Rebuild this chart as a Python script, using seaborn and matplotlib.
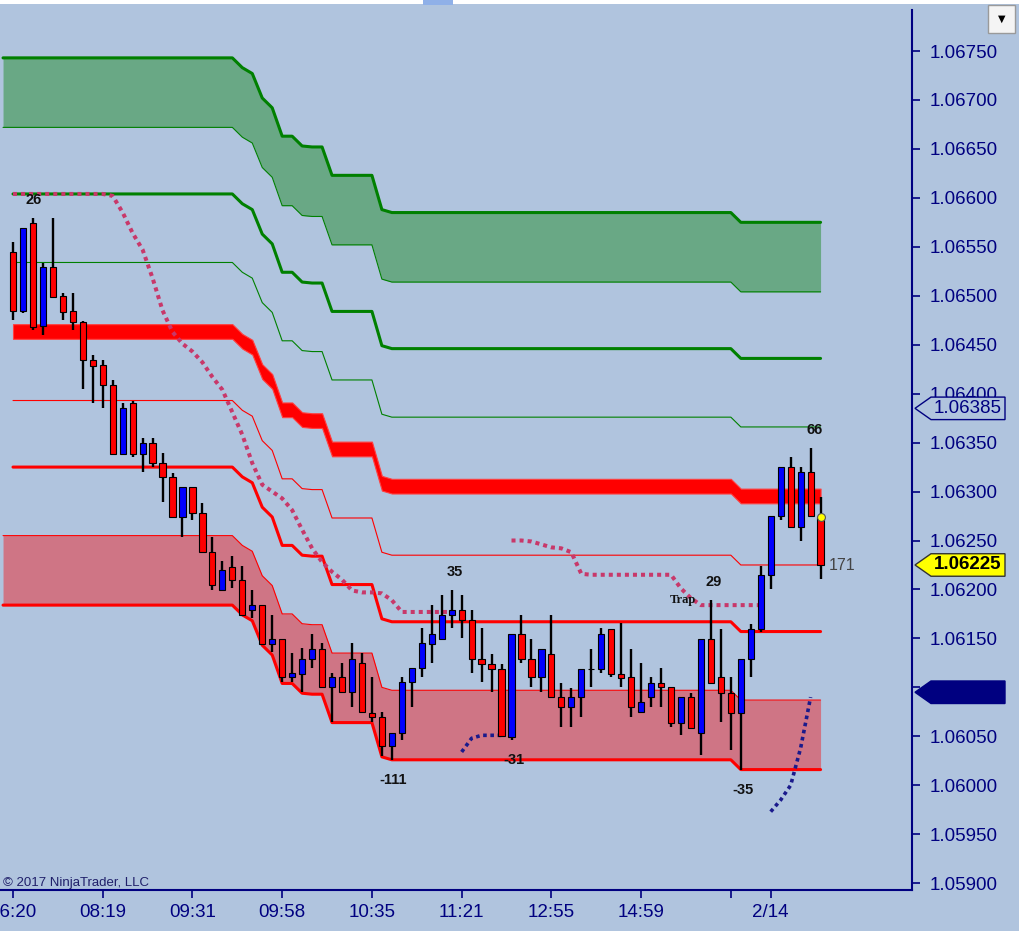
import numpy as np
import pandas as pd
import seaborn as sns
import matplotlib.pyplot as plt
from matplotlib.patches import Polygon, Rectangle
from matplotlib.transforms import blended_transform_factory

BG = "#B0C4DE"
NAVY = "#000080"

# 5-minute-ish bars, OHLC
opens = [1.06545, 1.06484, 1.06574, 1.06469, 1.06529, 1.06500, 1.06484, 1.06473, 1.06434, 1.06429,
         1.06409, 1.06338, 1.06390, 1.06338, 1.06350, 1.06329, 1.06315, 1.06274, 1.06305, 1.06278,
         1.06238, 1.06199, 1.06223, 1.06210, 1.06179, 1.06184, 1.06144, 1.06149, 1.06111, 1.06114,
         1.06129, 1.06139, 1.06100, 1.06111, 1.06095, 1.06125, 1.06074, 1.06070, 1.06040, 1.06053,
         1.06105, 1.06120, 1.06144, 1.06149, 1.06174, 1.06179, 1.06169, 1.06129, 1.06124, 1.06119,
         1.06049, 1.06154, 1.06129, 1.06111, 1.06134, 1.06090, 1.06080, 1.06090, 1.06119, 1.06119,
         1.06160, 1.06114, 1.06111, 1.06075, 1.06090, 1.06104, 1.06100, 1.06064, 1.06090, 1.06053,
         1.06149, 1.06111, 1.06094, 1.06074, 1.06129, 1.06160, 1.06215, 1.06275, 1.06325, 1.06264,
         1.06320, 1.06274]
highs = [1.06555, 1.06569, 1.06579, 1.06533, 1.06579, 1.06503, 1.06503, 1.06474, 1.06439, 1.06434,
         1.06414, 1.06390, 1.06393, 1.06355, 1.06355, 1.06339, 1.06319, 1.06305, 1.06305, 1.06288,
         1.06254, 1.06229, 1.06234, 1.06224, 1.06199, 1.06184, 1.06174, 1.06149, 1.06135, 1.06140,
         1.06155, 1.06145, 1.06115, 1.06125, 1.06145, 1.06135, 1.06111, 1.06075, 1.06053, 1.06111,
         1.06120, 1.06161, 1.06184, 1.06194, 1.06199, 1.06194, 1.06179, 1.06161, 1.06134, 1.06124,
         1.06154, 1.06174, 1.06149, 1.06139, 1.06174, 1.06104, 1.06099, 1.06119, 1.06139, 1.06161,
         1.06160, 1.06166, 1.06139, 1.06125, 1.06111, 1.06120, 1.06100, 1.06090, 1.06094, 1.06149,
         1.06189, 1.06160, 1.06111, 1.06129, 1.06165, 1.06224, 1.06275, 1.06325, 1.06335, 1.06325,
         1.06344, 1.06294]
lows = [1.06475, 1.06482, 1.06465, 1.06460, 1.06499, 1.06475, 1.06465, 1.06405, 1.06390, 1.06385,
        1.06338, 1.06338, 1.06335, 1.06320, 1.06325, 1.06289, 1.06274, 1.06254, 1.06271, 1.06238,
        1.06199, 1.06198, 1.06201, 1.06174, 1.06171, 1.06144, 1.06136, 1.06105, 1.06105, 1.06095,
        1.06120, 1.06100, 1.06065, 1.06095, 1.06080, 1.06075, 1.06065, 1.06030, 1.06026, 1.06046,
        1.06080, 1.06111, 1.06125, 1.06148, 1.06161, 1.06150, 1.06115, 1.06105, 1.06095, 1.06049,
        1.06046, 1.06125, 1.06100, 1.06095, 1.06090, 1.06059, 1.06059, 1.06070, 1.06100, 1.06115,
        1.06111, 1.06100, 1.06070, 1.06074, 1.06080, 1.06080, 1.06059, 1.06051, 1.06058, 1.06031,
        1.06104, 1.06065, 1.06036, 1.06016, 1.06111, 1.06157, 1.06200, 1.06271, 1.06264, 1.06250,
        1.06275, 1.06211]
closes = [1.06484, 1.06569, 1.06468, 1.06529, 1.06499, 1.06483, 1.06473, 1.06434, 1.06428, 1.06409,
          1.06338, 1.06385, 1.06338, 1.06350, 1.06329, 1.06315, 1.06274, 1.06305, 1.06278, 1.06238,
          1.06205, 1.06220, 1.06210, 1.06174, 1.06184, 1.06144, 1.06149, 1.06111, 1.06115, 1.06129,
          1.06139, 1.06100, 1.06111, 1.06095, 1.06129, 1.06075, 1.06070, 1.06040, 1.06053, 1.06105,
          1.06120, 1.06145, 1.06154, 1.06174, 1.06179, 1.06169, 1.06129, 1.06124, 1.06119, 1.06050,
          1.06154, 1.06129, 1.06111, 1.06139, 1.06090, 1.06080, 1.06090, 1.06119, 1.06119, 1.06154,
          1.06114, 1.06110, 1.06080, 1.06085, 1.06104, 1.06100, 1.06064, 1.06090, 1.06058, 1.06149,
          1.06104, 1.06094, 1.06074, 1.06129, 1.06160, 1.06215, 1.06275, 1.06325, 1.06264, 1.06320,
          1.06275, 1.06225]

# pivot-style levels: value at the first bar, then all levels step down together
step_down = ([0.0] * 23
             + [0.00010, 0.00016, 0.00041, 0.00051, 0.00080, 0.00080, 0.00090, 0.00091, 0.00091,
                0.00120, 0.00120, 0.00120, 0.00120, 0.00120, 0.00155, 0.00158]
             + [0.00158] * 34 + [0.00168] * 9)
green_zone = (1.06672, 1.06743)
green_thick = 1.06604
green_thin = 1.06534
mid_zone = (1.06456, 1.06471)
red_thin = 1.06393
red_thick = 1.06325
red_zone = (1.06184, 1.06255)

# dotted trailing lines (start bar, values)
trail_up_start = 0
trail_up = ([1.06604] * 10
            + [1.06602, 1.06585, 1.06564, 1.06547, 1.06518, 1.06485, 1.06463, 1.06451, 1.06443,
               1.06432, 1.06417, 1.06404, 1.06381, 1.06358, 1.06329, 1.06307, 1.06300, 1.06293,
               1.06281, 1.06261, 1.06242, 1.06228, 1.06218, 1.06210, 1.06199, 1.06197, 1.06197,
               1.06196, 1.06189]
            + [1.06177] * 6)
trail_up2_start = 50
trail_up2 = ([1.06250, 1.06250, 1.06249, 1.06246, 1.06243, 1.06242, 1.06238, 1.06216]
             + [1.06215] * 9 + [1.06201, 1.06191] + [1.06184] * 7)
trail_dn_start = 45
trail_dn = [1.06034, 1.06048, 1.06051, 1.06051, 1.06051]
trail_dn2_start = 76
trail_dn2 = [1.05973, 1.05985, 1.06000, 1.06038, 1.06090]

# swing labels (bar, price, text)
swing_bars = [2.1, 44.3, 38.1, 50.2, 73.2, 70.3, 80.4]
swing_prices = [1.06598, 1.06218, 1.06005, 1.06026, 1.05995, 1.06208, 1.06363]
swing_texts = ["26", "35", "-111", "-31", "-35", "29", "66"]

tick_bars = [0, 9, 18, 27, 36, 45, 54, 63, 72, 76]
tick_labels = ["06:20", "08:19", "09:31", "09:58", "10:35", "11:21", "12:55", "14:59", "", "2/14"]
price_ticks = [1.05900 + 0.0005 * i for i in range(18)]


def main():
    sns.set_style("white", {"axes.facecolor": BG, "figure.facecolor": BG})
    plt.rcParams["font.family"] = ["Liberation Sans", "DejaVu Sans"]

    fig = plt.figure(figsize=(10.19, 9.31), dpi=100)
    ax = fig.add_axes([0, 41 / 931, 912 / 1019, 880 / 931])

    bars = np.arange(len(opens))
    shift = np.array(step_down)
    zx = np.r_[-1, bars]
    zshift = np.r_[0.0, shift]

    # zones
    ax.fill_between(zx, green_zone[0] - zshift, green_zone[1] - zshift, color="green", alpha=0.4, lw=0, zorder=1)
    sns.lineplot(x=zx, y=green_zone[1] - zshift, color="green", lw=2.2, ax=ax, zorder=2)
    sns.lineplot(x=zx, y=green_zone[0] - zshift, color="green", lw=0.8, ax=ax, zorder=2)
    ax.fill_between(zx, red_zone[0] - zshift, red_zone[1] - zshift, color="red", alpha=0.4, lw=0, zorder=1)
    sns.lineplot(x=zx, y=red_zone[0] - zshift, color="red", lw=2.2, ax=ax, zorder=2)
    sns.lineplot(x=zx, y=red_zone[1] - zshift, color="red", lw=0.8, ax=ax, zorder=2)
    ax.fill_between(bars, mid_zone[0] - shift, mid_zone[1] - shift, color="red", edgecolor="#ff4040", lw=0.8, zorder=2)

    # levels
    sns.lineplot(x=bars, y=green_thick - shift, color="green", lw=2.2, ax=ax, zorder=2)
    sns.lineplot(x=bars, y=green_thin - shift, color="green", lw=0.8, ax=ax, zorder=2)
    sns.lineplot(x=bars, y=red_thin - shift, color="red", lw=0.8, ax=ax, zorder=2)
    sns.lineplot(x=bars, y=red_thick - shift, color="red", lw=2.2, ax=ax, zorder=2)

    # dotted trails
    for start, vals, col, lw in [(trail_up_start, trail_up, "#C8386A", 2.9),
                                 (trail_up2_start, trail_up2, "#C8386A", 2.9),
                                 (trail_dn_start, trail_dn, "#1A1A8C", 2.6),
                                 (trail_dn2_start, trail_dn2, "#1A1A8C", 2.6)]:
        xs = np.arange(start, start + len(vals))
        sns.lineplot(x=xs, y=vals, color=col, lw=lw, linestyle=(0, (1, 1)), ax=ax, zorder=3)

    # candles
    df = pd.DataFrame({"bar": bars, "open": opens, "high": highs, "low": lows, "close": closes})
    df["color"] = np.where(df["close"] >= df["open"], "#0000FF", "#FF0000")
    ax.vlines(df["bar"], df["low"], df["high"], color="black", lw=1.7, zorder=4)
    ax.bar(df["bar"], (df["close"] - df["open"]).abs(), bottom=df[["open", "close"]].min(axis=1),
           width=0.62, color=df["color"], edgecolor="black", linewidth=0.8, zorder=5)
    ax.scatter([bars[-1]], [opens[-1]], s=32, color="yellow", edgecolor="#555555", lw=0.8, zorder=6)

    for bx, by, t in zip(swing_bars, swing_prices, swing_texts):
        ax.text(bx, by, t, ha="center", va="center", fontsize=10.5, fontweight="bold", color="#111111", zorder=7)
    ax.text(67.2, 1.06189, "Trap", ha="center", va="center", fontsize=9, fontweight="bold",
            family=["Liberation Serif", "DejaVu Serif"], color="#111111", zorder=7)
    ax.text(81.8, 1.06224, "171", ha="left", va="center", fontsize=11.5, color="#444444", zorder=7)

    # axes styling
    for side in ["top", "left"]:
        ax.spines[side].set_visible(False)
    for side in ["right", "bottom"]:
        ax.spines[side].set_color(NAVY)
        ax.spines[side].set_linewidth(1.5)
    ax.set_yticks(price_ticks)
    ax.set_yticklabels([f"{p:.5f}" for p in price_ticks])
    ax.set_xticks(tick_bars)
    ax.set_xticklabels(tick_labels)
    ax.tick_params(axis="y", left=False, right=True, labelleft=False, labelright=True,
                   direction="out", length=6, width=1.2, color=NAVY, labelcolor=NAVY, labelsize=13.5, pad=7)
    ax.tick_params(axis="x", bottom=True, direction="out", length=6, width=1.2, color=NAVY,
                   labelcolor=NAVY, labelsize=13.5, pad=4)
    ax.set_xlabel("")
    ax.set_ylabel("")

    # price markers on the axis
    trans = blended_transform_factory(ax.transAxes, ax.transData)
    h = 0.000115
    markers = [(1.06385, BG, NAVY, NAVY, "1.06385"),
               (1.06225, "#FFFF00", "#333333", "black", "1.06225"),
               (1.06095, NAVY, NAVY, NAVY, "")]
    for price, face, edge, tcol, label in markers:
        pts = [(915 / 912, price), (931 / 912, price + h), (1005 / 912, price + h),
               (1005 / 912, price - h), (931 / 912, price - h)]
        ax.add_patch(Polygon(pts, closed=True, transform=trans, facecolor=face, edgecolor=edge,
                             lw=1, clip_on=False, zorder=10))
        ax.text(968 / 912, price, label, transform=trans, ha="center", va="center",
                fontsize=13.5, color=tcol, fontweight="bold" if face != BG else "normal", zorder=11)
    ax.set_xlim(-13 / 9.97, (912 - 13) / 9.97)
    ax.set_ylim(1.058930, 1.067919)

    fig.text(3 / 1019, 1 - 883 / 931, "\u00a9 2017 NinjaTrader, LLC", fontsize=9.5, color="#20206A", va="center")
    fig.patches.append(Rectangle((0, 1 - 4 / 931), 1, 4 / 931, transform=fig.transFigure,
                                 facecolor="white", edgecolor="none"))
    fig.patches.append(Rectangle((423 / 1019, 1 - 5 / 931), 30 / 1019, 5 / 931, transform=fig.transFigure,
                                 facecolor="#8FB0E8", edgecolor="none"))
    fig.patches.append(Rectangle((988 / 1019, 1 - 33 / 931), 27 / 1019, 28 / 931, transform=fig.transFigure,
                                 facecolor="#F4F4F4", edgecolor="#9A9A9A", lw=1))
    fig.text(1001.5 / 1019, 1 - 19 / 931, "\u25BC", fontsize=7, color="black", ha="center", va="center",
             family="DejaVu Sans")

    fig.savefig("out.png", dpi=100, facecolor=BG)


if __name__ == "__main__":
    main()
